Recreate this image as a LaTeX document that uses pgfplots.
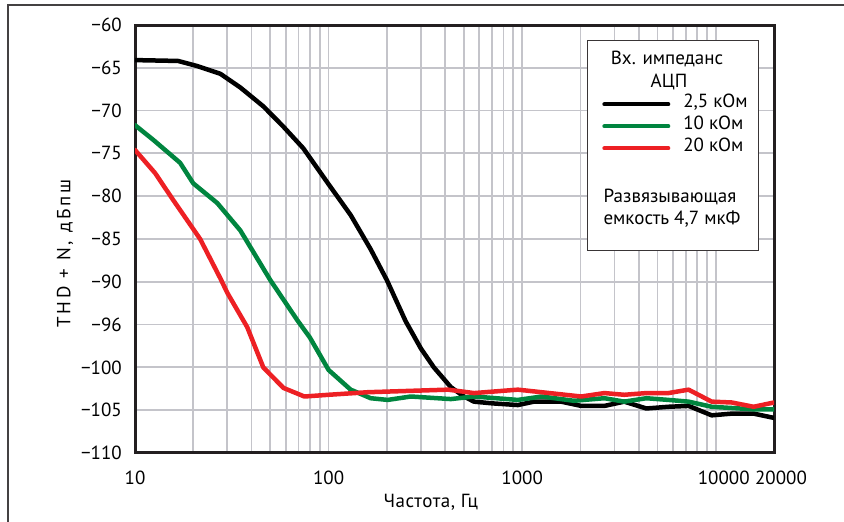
\documentclass[border=0pt]{standalone}
\usepackage{fontspec}
\setmainfont{PT Sans}
\usepackage{pgfplots}
\pgfplotsset{compat=1.18}

\definecolor{cgreen}{RGB}{0,133,63}
\definecolor{cred}{RGB}{237,32,36}
\definecolor{cgrid}{RGB}{196,196,202}
\definecolor{cframe}{RGB}{35,31,32}

\begin{document}
\fontsize{19}{22}\selectfont
\begin{tikzpicture}[x=1pt,y=1pt]
\useasboundingbox (0,0) rectangle (844,522);
% partial outer frame
\draw[cframe!85, line width=1.2pt] (8,0) -- (8,517) -- (844,517);

\begin{axis}[
    at={(135pt,69pt)}, anchor=south west,
    width=639pt, height=428pt, scale only axis,
    font=\fontsize{19}{22}\selectfont,
    xmode=log,
    xmin=10, xmax=20000,
    ymin=-110, ymax=-60,
    xtick={10,100,1000,10000,20000},
    xticklabels={10,100,1000,\hspace*{16pt}10000,\hspace*{14pt}20000},
    minor xtick={20,30,40,50,60,70,80,90,200,300,400,500,600,700,800,900,2000,3000,4000,5000,6000,7000,8000,9000},
    ytick={-110,-105,-100,-95,-90,-85,-80,-75,-70,-65,-60},
    yticklabels={−110,−105,−100,−96,−90,−85,−80,−75,−70,−65,−60},
    major tick length=0pt, minor tick length=0pt,
    grid=both,
    major grid style={cgrid, line width=1.8pt},
    minor grid style={cgrid, line width=1.8pt},
    axis line style={cframe, line width=3pt},
    y tick label style={anchor=east, inner sep=0pt, xshift=-13pt},
    x tick label style={anchor=north, inner sep=0pt, yshift=-18pt},
    xlabel={\addfontfeatures{LetterSpace=3}Частота, Гц},
    ylabel={\addfontfeatures{LetterSpace=15}THD + N, дБпш},
    x label style={at={(axis description cs:0.463,-0.114)}, anchor=center},
    y label style={at={(axis description cs:-0.1095,0.466)}, anchor=center, rotate=0},
    legend image code/.code={\draw[#1, line width=4pt] (0pt,0pt) -- (64pt,0pt);},
    legend style={
        at={(axis description cs:0.731,0.834)}, anchor=north west,
        draw=none, fill=none, inner sep=0pt,
        row sep=6pt,
        nodes={inner sep=0pt, text height=11pt, text depth=5pt},
        cells={anchor=west},
        /tikz/every odd column/.append style={column sep=13pt},
    },
    every axis plot/.append style={line width=4.5pt, line join=round, line cap=round},
]
\draw[cframe!90, line width=0.9pt, fill=white]
    (rel axis cs:0.7074,0.474) rectangle (rel axis cs:0.975,0.965);

\addplot[black] coordinates {
 (10,-64.1) (16.7,-64.2) (21,-64.8) (27.6,-65.7) (35,-67.3) (46,-69.5)
 (58,-71.8) (74,-74.4) (100,-78.6) (130,-82.2) (165,-86.2) (200,-89.8)
 (250,-94.6) (300,-97.8) (350,-100) (428,-102.3) (500,-103.4) (564,-104)
 (700,-104.2) (950,-104.4) (1150,-104) (1590,-104) (2020,-104.5)
 (2660,-104.5) (3370,-104) (4380,-104.8) (5700,-104.6) (7240,-104.5)
 (9530,-105.6) (12100,-105.4) (15700,-105.4) (20000,-105.9)
};
\addlegendentry{2,5 кОм}
\addplot[cgreen] coordinates {
 (10,-71.7) (12.4,-73.4) (17.1,-76.1) (20,-78.5) (26.6,-80.8) (35,-84)
 (50,-89.8) (69,-94.5) (80,-96.5) (100,-100.3) (130,-102.6) (165,-103.6)
 (202,-103.8) (266,-103.4) (428,-103.7) (564,-103.4) (950,-103.8)
 (1260,-103.4) (1850,-103.9) (2660,-103.6) (3370,-104) (4380,-103.6)
 (5700,-103.8) (7240,-104) (9530,-104.6) (15700,-104.9) (20000,-104.9)
};
\addlegendentry{10 кОм}
\addplot[cred] coordinates {
 (10,-74.6) (12.7,-77.3) (15.7,-80.4) (21.7,-85) (27.6,-89.6) (30,-91.3)
 (38,-95.3) (46,-100) (58.5,-102.4) (75,-103.4) (100,-103.2) (159,-102.9)
 (414,-102.6) (564,-103) (950,-102.6) (1260,-102.9) (2020,-103.4)
 (2660,-103) (3370,-103.2) (4380,-103) (5700,-103) (7240,-102.6)
 (9530,-104) (12100,-104.1) (15700,-104.6) (20000,-104.1)
};
\addlegendentry{20 кОм}
\end{axis}

\node[anchor=base] at (667,457) {Вх. импеданс};
\node[anchor=base] at (669,434) {АЦП};
\node[anchor=base] at (670,319) {Развязывающая};
\node[anchor=base] at (672,297) {емкость 4,7 мкФ};
\end{tikzpicture}
\end{document}
